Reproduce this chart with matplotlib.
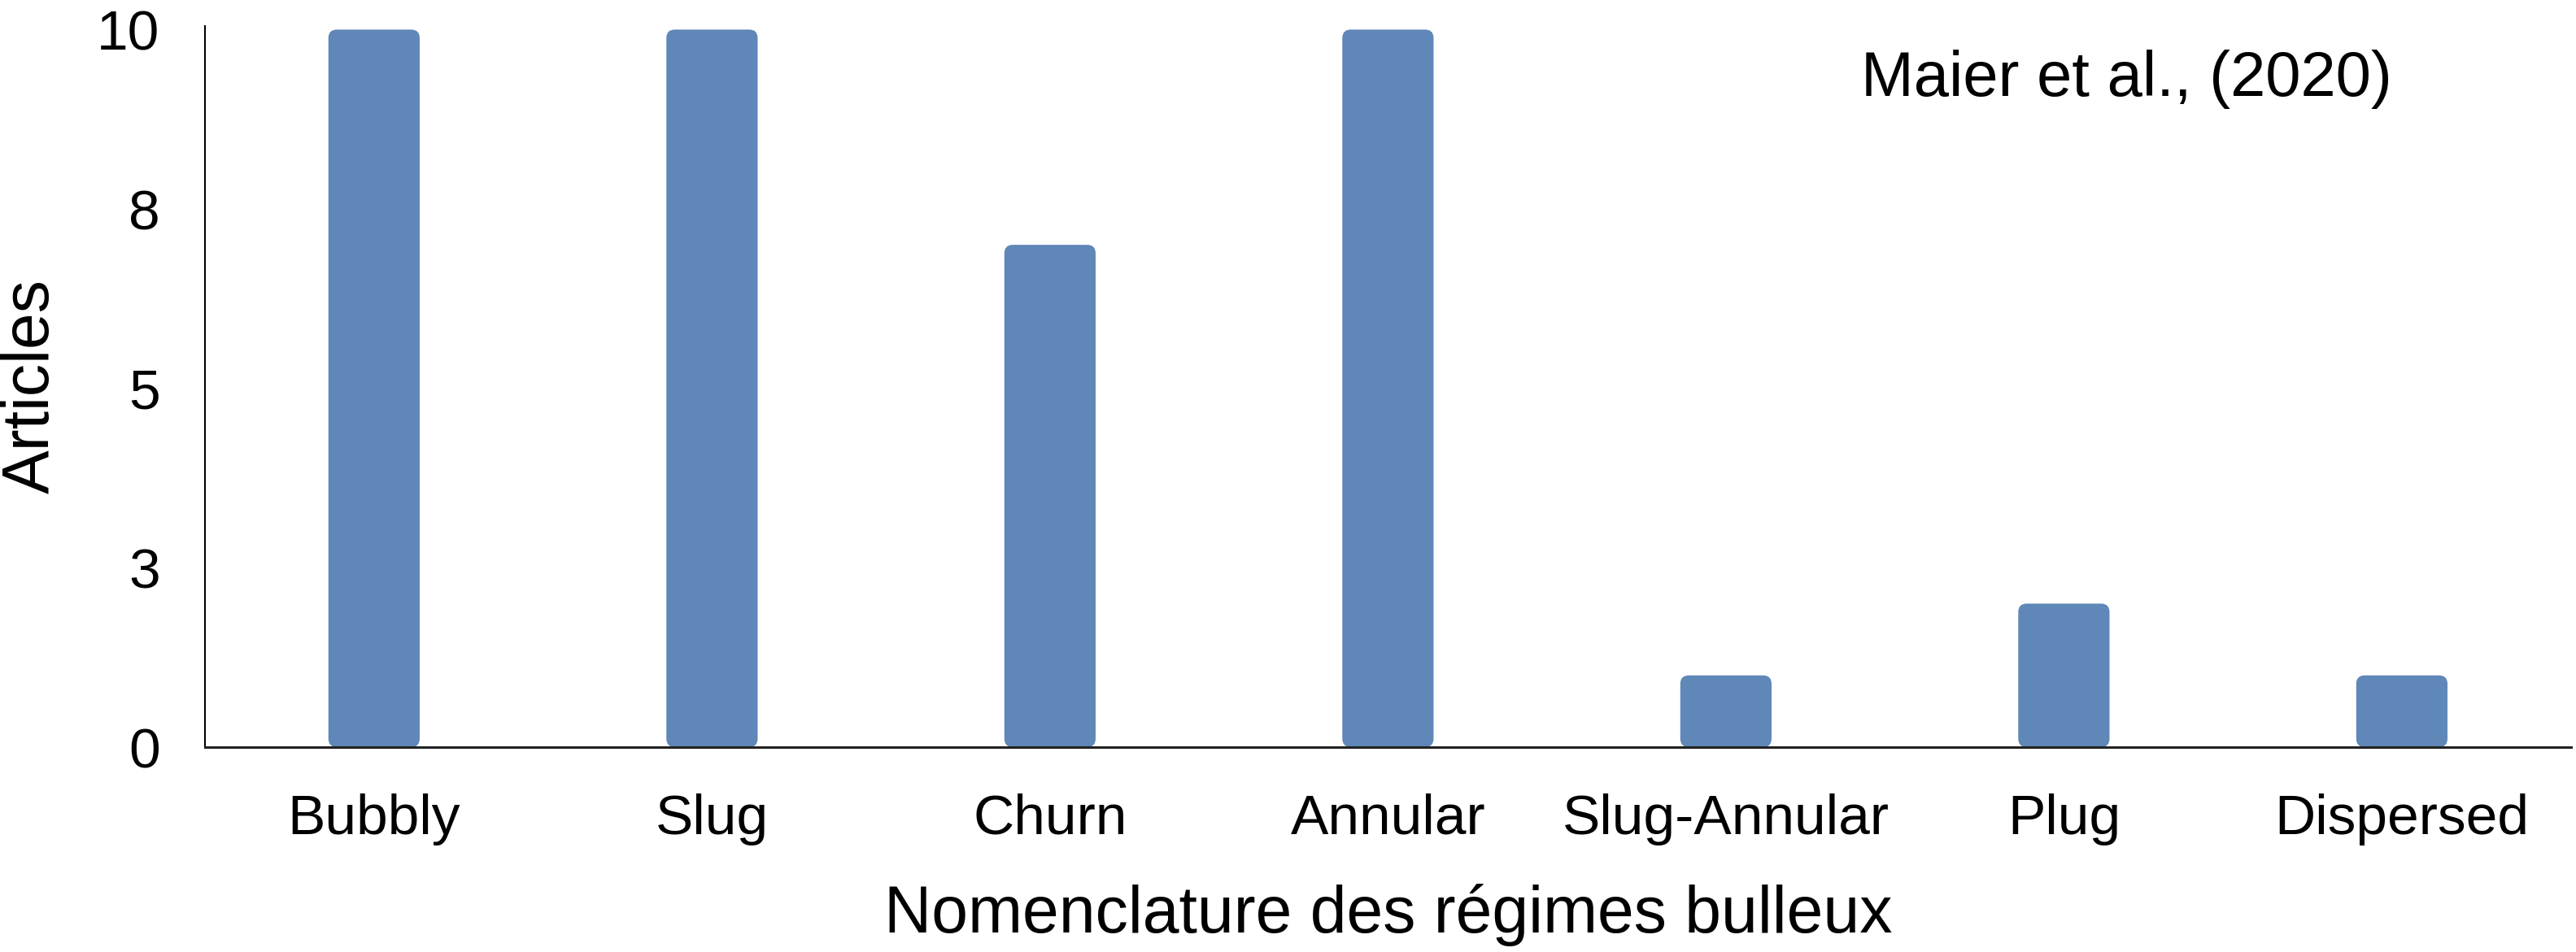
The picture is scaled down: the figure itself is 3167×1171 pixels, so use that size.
import matplotlib
matplotlib.use('Agg')
import matplotlib.pyplot as plt
from matplotlib.patches import FancyBboxPatch

plt.rcParams['font.family'] = ['Liberation Sans', 'DejaVu Sans']

# donnees
regimes = ['Bubbly', 'Slug', 'Churn', 'Annular', 'Slug-Annular', 'Plug', 'Dispersed']
articles = [10, 10, 7, 10, 1, 2, 1]
yticks = [0, 2.5, 5, 7.5, 10]
ytick_labels = ['0', '3', '5', '8', '10']

fig = plt.figure(figsize=(31.67, 11.71), dpi=100)
ax = fig.add_axes([0.0796, 0.2152, 0.9184, 0.7575])

bars = ax.bar(range(len(regimes)), articles, width=0.27, color='#5F87B8')
# coins arrondis
for b in bars:
    x0, y0 = b.get_x(), b.get_y()
    w, h = b.get_width(), b.get_height()
    p = FancyBboxPatch((x0, y0), w, h,
                       boxstyle='round,pad=0,rounding_size=0.025',
                       mutation_aspect=4.7, facecolor='#5F87B8',
                       edgecolor='none')
    b.remove()
    ax.add_patch(p)

ax.set_xlim(-0.5, len(regimes) - 0.5)
ax.set_ylim(0, 10.05)
ax.set_yticks(yticks)
ax.set_yticklabels(ytick_labels)
ax.set_xticks(range(len(regimes)))
ax.set_xticklabels(regimes)
ax.tick_params(axis='y', length=0, pad=40, labelsize=50)
ax.tick_params(axis='x', length=0, pad=41, labelsize=50)

ax.spines['right'].set_color('none')
ax.spines['top'].set_color('none')
ax.spines['left'].set_linewidth(1.5)
ax.spines['bottom'].set_linewidth(2.2)
ax.spines['bottom'].set_color('#222222')

ax.set_xlabel('Nomenclature des régimes bulleux', fontsize=58, labelpad=34)
ax.set_ylabel('Articles', fontsize=58)
ax.yaxis.set_label_coords(-0.0602, 0.5)

fig.text(0.7225, 0.917, 'Maier et al., (2020)', fontsize=56, va='center', ha='left')

fig.savefig('out.png', dpi=100)
